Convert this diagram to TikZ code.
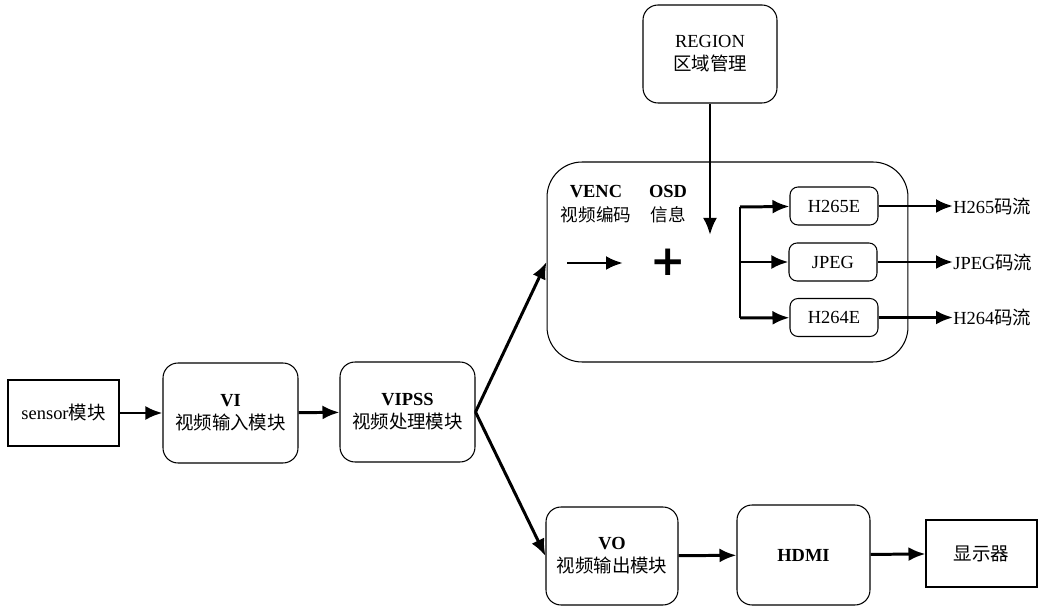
\documentclass[tikz,border=0pt]{standalone}
\usepackage{fontspec}
\setmainfont{Liberation Serif}
\newfontfamily\cjk{Noto Sans CJK SC}
\newfontfamily\plusfont{DejaVu Sans}
\usetikzlibrary{arrows.meta}
\begin{document}
\begin{tikzpicture}[x=0.02cm,y=-0.02cm,
  every node/.style={font=\fontsize{10.5}{13}\selectfont, align=center, inner sep=0pt},
  sqbox/.style={draw, line width=0.6pt, rectangle},
  rbox/.style={draw, line width=0.6pt, rectangle, rounded corners=0.3cm,
               minimum width=2.7cm, minimum height=2cm},
  cbox/.style={draw, line width=0.6pt, rectangle, rounded corners=0.16cm,
               minimum width=1.76cm, minimum height=0.76cm},
  flow/.style={line width=1.7pt, -{Latex[length=3.4mm,width=2.8mm]}},
  branch/.style={line width=1.7pt}]
\useasboundingbox (0,0) rectangle (1039,607);

% main chain
\node[sqbox, minimum width=2.22cm, minimum height=1.32cm] (sensor) at (63.5,413) {sensor{\cjk 模块}};
\node[rbox] (vi) at (230.5,413) {\textbf{VI}\\{\cjk 视频输入模块}};
\node[rbox] (vipss) at (407.5,412) {\textbf{VIPSS}\\{\cjk 视频处理模块}};

% encoder group
\node[draw, line width=0.6pt, rounded corners=0.7cm, minimum width=7.22cm, minimum height=4cm] (venc) at (727.5,262) {};
\node[rbox, minimum width=2.68cm, minimum height=1.96cm] (region) at (710,54) {REGION\\{\cjk 区域管理}};
\node (venct) at (596,204) {\textbf{VENC}\\[1pt]{\cjk\fontsize{10}{11}\selectfont 视频编码}};
\node (osdt) at (668,204) {\textbf{OSD}\\[1pt]{\cjk\fontsize{10}{11}\selectfont 信息}};
\node[font=\plusfont\fontsize{24}{24}\selectfont\bfseries] (plus) at (668,262) {+};
\coordinate (a1) at (567,263);
\coordinate (a2) at (623,263);
\coordinate (rtip) at (710,235);
\coordinate (btop) at (740,207);
\coordinate (bmid) at (740,262);
\coordinate (bbot) at (740,318);

\node[cbox] (h265) at (834,206) {H265E};
\node[cbox] (jpeg) at (833,262) {JPEG};
\node[cbox] (h264) at (834,317.5) {H264E};
\node[anchor=west] (s265) at (953,206) {H265{\cjk 码流}};
\node[anchor=west] (sjpg) at (953,262) {JPEG{\cjk 码流}};
\node[anchor=west] (s264) at (953,317.5) {H264{\cjk 码流}};

% output chain
\node[rbox, minimum width=2.64cm, minimum height=1.96cm] (vo) at (612,556) {\textbf{VO}\\{\cjk 视频输出模块}};
\node[rbox, minimum width=2.66cm] (hdmi) at (803.5,555) {\textbf{HDMI}};
\node[sqbox, minimum width=2.22cm, minimum height=1.34cm] (disp) at (981.5,553.5) {{\cjk 显示器}};

% connectors
\draw[flow] (sensor) -- (vi);
\draw[flow] (vi) -- (vipss);
\draw[flow] (vipss.east) -- (venc.west);
\draw[flow] (vipss.east) -- (vo.west);
\draw[flow] (region) -- (rtip);
\draw[flow] (a1) -- (a2);
\draw[branch] (btop) -- (bbot);
\draw[flow] (btop) -- (h265);
\draw[flow] (bmid) -- (jpeg);
\draw[flow] (bbot) -- (h264);
\draw[flow] (h265) -- (s265);
\draw[flow] (jpeg) -- (sjpg);
\draw[flow] (h264) -- (s264);
\draw[flow] (vo) -- (hdmi);
\draw[flow] (hdmi) -- (disp);
\end{tikzpicture}
\end{document}
